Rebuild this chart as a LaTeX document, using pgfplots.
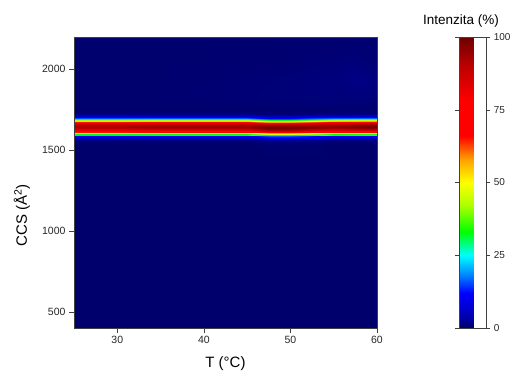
\documentclass[border=0pt]{standalone}
\usepackage{pgfplots}
\pgfplotsset{compat=1.18}
\usepackage{fontspec}
\setmainfont{Liberation Sans}
\pgfplotsset{/pgf/number format/assume math mode=true}
\begin{document}
\begin{tikzpicture}
\path[use as bounding box] (0,0) rectangle (510pt,374pt);
\begin{axis}[
 at={(74pt,46pt)}, anchor=south west,
 scale only axis, width=303pt, height=291pt,
 view={0}{90},
 xmin=25, xmax=60, ymin=400, ymax=2200,
 xtick={30,40,50,60}, ytick={500,1000,1500,2000},
 tick align=outside, tick pos=left,
 major tick length=5pt,
 axis on top,
 axis line style={black!75},
 every tick/.style={black!75},
 tick label style={font=\fontsize{10.5}{12}\selectfont, black!85},
 /pgf/number format/1000 sep={},
 xlabel={T (°C)}, ylabel={CCS (Å\textsuperscript{2})},
 label style={font=\fontsize{15}{17}\selectfont},
 xlabel style={at={(axis description cs:0.5,-0.124)}, anchor=center},
 ylabel style={at={(axis description cs:-0.172,0.388)}, anchor=center},
 colormap={jetO}{rgb255(0cm)=(0,0,108); rgb255(5cm)=(0,0,190); rgb255(12cm)=(0,0,255); rgb255(18cm)=(0,128,255); rgb255(25cm)=(0,255,255); rgb255(33cm)=(0,255,0); rgb255(42cm)=(170,255,0); rgb255(50cm)=(255,255,0); rgb255(58cm)=(255,160,0); rgb255(66cm)=(255,0,0); rgb255(78cm)=(255,0,0); rgb255(90cm)=(190,0,0); rgb255(100cm)=(110,0,0)},
 point meta min=0, point meta max=100,
 colorbar,
 colorbar style={
   at={(parent axis.north east)}, anchor=north west, xshift=73.7pt,
   width=27pt, height=291pt,
   ytick={0,25,50,75,100},
   tick align=outside, major tick length=4pt,
   axis line style={black!75},
   every tick/.style={black!75},
   yticklabel style={font=\fontsize{10}{12}\selectfont, black!85},
 },
]
\addplot3[surf, shader=interp, mesh/ordering=y varies, mesh/rows=25, mesh/cols=10] table[x index=0, y index=1, z index=2] {
25 400 0
25 1450 0
25 1545 0
25 1565 1.4
25 1585 9.3
25 1595 22.3
25 1605 41.9
25 1615 65.1
25 1625 81.8
25 1635 90.2
25 1645 93
25 1655 90.2
25 1665 81.8
25 1675 65.1
25 1685 41.9
25 1695 22.3
25 1705 9.3
25 1715 3.7
25 1725 1.4
25 1745 0
25 1780 0.2
25 1850 0.2
25 1950 0.2
25 2050 0.2
25 2200 0.2
30 400 0
30 1450 0
30 1545 0
30 1565 1.4
30 1585 9.3
30 1595 22.3
30 1605 41.9
30 1615 65.1
30 1625 81.8
30 1635 90.2
30 1645 93
30 1655 90.2
30 1665 81.8
30 1675 65.1
30 1685 41.9
30 1695 22.3
30 1705 9.3
30 1715 3.7
30 1725 1.4
30 1745 0
30 1780 0.2
30 1850 0.2
30 1950 0.2
30 2050 0.2
30 2200 0.2
35 400 0
35 1450 0
35 1545 0
35 1565 1.4
35 1585 9.5
35 1595 22.8
35 1605 42.8
35 1615 66.5
35 1625 83.6
35 1635 92.2
35 1645 95
35 1655 92.2
35 1665 83.6
35 1675 66.5
35 1685 42.8
35 1695 22.8
35 1705 9.5
35 1715 3.8
35 1725 1.4
35 1745 0
35 1780 0.2
35 1850 0.2
35 1950 0.2
35 2050 0.2
35 2200 0.2
40 400 0
40 1450 0
40 1545 0
40 1565 1.4
40 1585 9.5
40 1595 22.8
40 1605 42.8
40 1615 66.5
40 1625 83.6
40 1635 92.2
40 1645 95
40 1655 92.2
40 1665 83.6
40 1675 66.5
40 1685 42.8
40 1695 22.8
40 1705 9.5
40 1715 3.8
40 1725 1.4
40 1745 0
40 1780 0.3
40 1850 0.4
40 1950 0.3
40 2050 0.2
40 2200 0.2
45 400 0
45 1450 0
45 1545 0
45 1565 1.4
45 1585 9.5
45 1595 22.8
45 1605 42.8
45 1615 66.5
45 1625 83.6
45 1635 92.2
45 1645 95
45 1655 92.2
45 1665 83.6
45 1675 66.5
45 1685 42.8
45 1695 22.8
45 1705 9.5
45 1715 3.8
45 1725 1.4
45 1745 0
45 1780 0.4
45 1850 0.6
45 1950 0.5
45 2050 0.3
45 2200 0.2
47.5 400 0
47.5 1450 0
47.5 1545 0.4
47.5 1565 2.5
47.5 1585 16
47.5 1595 34
47.5 1605 58
47.5 1615 80
47.5 1625 93
47.5 1635 99
47.5 1645 99
47.5 1655 93
47.5 1665 80
47.5 1675 58
47.5 1685 34
47.5 1695 16
47.5 1705 6.5
47.5 1715 2.5
47.5 1725 0.8
47.5 1745 0
47.5 1780 0.5
47.5 1850 0.7
47.5 1950 0.6
47.5 2050 0.3
47.5 2200 0.2
50 400 0
50 1450 0
50 1545 0.4
50 1565 2.5
50 1585 16
50 1595 34
50 1605 58
50 1615 80
50 1625 93
50 1635 99
50 1645 99
50 1655 93
50 1665 80
50 1675 58
50 1685 34
50 1695 16
50 1705 6.5
50 1715 2.5
50 1725 0.8
50 1745 0
50 1780 0.5
50 1850 0.8
50 1950 0.7
50 2050 0.4
50 2200 0.2
55 400 0
55 1450 0
55 1545 0
55 1565 1.4
55 1585 9.6
55 1595 23
55 1605 43.2
55 1615 67.2
55 1625 84.5
55 1635 93.1
55 1645 96
55 1655 93.1
55 1665 84.5
55 1675 67.2
55 1685 43.2
55 1695 23
55 1705 9.6
55 1715 3.8
55 1725 1.4
55 1745 0
55 1780 0.6
55 1850 0.9
55 1950 1.0
55 2050 0.6
55 2200 0.2
57.5 400 0
57.5 1450 0
57.5 1545 0
57.5 1565 1.5
57.5 1585 9.8
57.5 1595 23.5
57.5 1605 44.1
57.5 1615 68.6
57.5 1625 86.2
57.5 1635 95.1
57.5 1645 98
57.5 1655 95.1
57.5 1665 86.2
57.5 1675 68.6
57.5 1685 44.1
57.5 1695 23.5
57.5 1705 9.8
57.5 1715 3.9
57.5 1725 1.5
57.5 1745 0
57.5 1780 0.6
57.5 1850 1.0
57.5 1950 1.6
57.5 2050 0.8
57.5 2200 0.2
60 400 0
60 1450 0
60 1545 0
60 1565 1.5
60 1585 10
60 1595 24
60 1605 45
60 1615 70
60 1625 88
60 1635 97
60 1645 100
60 1655 97
60 1665 88
60 1675 70
60 1685 45
60 1695 24
60 1705 10
60 1715 4
60 1725 1.5
60 1745 0
60 1780 0.5
60 1850 0.8
60 1950 1.0
60 2050 0.5
60 2200 0.2
};
\end{axis}
\node[font=\fontsize{13.5}{16}\selectfont] at (461pt,353pt) {Intenzita (\%)};
\end{tikzpicture}
\end{document}
